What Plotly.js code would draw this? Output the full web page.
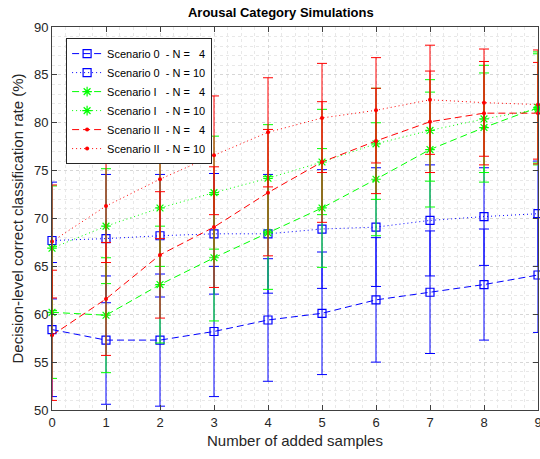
<!DOCTYPE html>
<html>
<head>
<meta charset="utf-8">
<script src="https://cdn.plot.ly/plotly-3.0.1.min.js"></script>
<style>html,body{margin:0;padding:0;background:#fff;}#chart{width:540px;height:459px;}</style>
</head>
<body>
<div id="chart"></div>
<script>
// ---- data ----
const samples = [0, 1, 2, 3, 4, 5, 6, 7, 8, 9];

const s0n4     = [58.4, 57.3, 57.3, 58.2, 59.4, 60.1, 61.5, 62.3, 63.1, 64.1];
const s0n4Err  = [7.0, 6.7, 6.9, 6.8, 6.4, 6.4, 6.5, 6.4, 5.8, 6.0];
const s0n10    = [67.7, 67.9, 68.2, 68.4, 68.4, 68.9, 69.1, 69.8, 70.2, 70.5];
const s0n10Err = [6.1, 6.7, 6.4, 6.3, 6.2, 6.2, 6.2, 5.8, 5.1, 5.5];
const s1n4     = [60.2, 59.9, 63.1, 65.9, 68.5, 71.1, 74.1, 77.2, 79.5, 81.6];
const s1n4Err  = [6.9, 6.0, 6.1, 6.6, 5.9, 6.2, 5.9, 6.0, 5.7, 5.8];
const s1n10    = [66.9, 69.2, 71.1, 72.7, 74.2, 75.9, 77.8, 79.2, 80.4, 81.4];
const s1n10Err = [6.5, 6.0, 6.1, 5.9, 5.6, 5.5, 5.8, 5.3, 5.6, 5.8];
const s2n4     = [57.8, 61.6, 66.2, 69.1, 72.7, 75.9, 78.1, 80.1, 81.0, 81.0];
const s2n4Err  = [6.8, 5.9, 6.6, 6.3, 6.6, 6.3, 5.5, 5.3, 5.4, 5.3];
const s2n10    = [67.6, 71.3, 74.1, 76.6, 79.0, 80.5, 81.3, 82.4, 82.1, 81.9];
const s2n10Err = [5.9, 5.9, 6.2, 6.2, 5.7, 5.7, 5.5, 5.7, 5.6, 5.7];

const seriesNames = [
  "Scenario 0\u00a0\u00a0- N =\u00a0\u00a0 4",
  "Scenario 0\u00a0\u00a0- N = 10",
  "Scenario I\u00a0\u00a0\u00a0- N =\u00a0\u00a0 4",
  "Scenario I\u00a0\u00a0\u00a0- N = 10",
  "Scenario II\u00a0\u00a0- N =\u00a0\u00a0 4",
  "Scenario II\u00a0\u00a0- N = 10"
];

const BLUE = '#0000ff', GREEN = '#00ff00', RED = '#ff0000';
const DASH = '7px,4px', DOT = '1px,3px';

function mk(y, err, name, color, dash, symbol, msize, mline) {
  return {
    x: samples, y: y, name: name, type: 'scatter', mode: 'lines+markers',
    cliponaxis: false,
    line: {color: color, width: 1, dash: dash},
    marker: {symbol: symbol, size: msize, color: color,
             line: {color: color, width: mline}},
    error_y: {type: 'data', array: err, visible: true, color: color, thickness: 1, width: 5}
  };
}

const traces = [
  mk(s0n4,  s0n4Err,  seriesNames[0], BLUE,  DASH, 'square-open', 8, 1.2),
  mk(s0n10, s0n10Err, seriesNames[1], BLUE,  DOT,  'square-open', 8, 1.2),
  mk(s1n4,  s1n4Err,  seriesNames[2], GREEN, DASH, 'asterisk-open', 8, 1.2),
  mk(s1n10, s1n10Err, seriesNames[3], GREEN, DOT,  'asterisk-open', 8, 1.2),
  mk(s2n4,  s2n4Err,  seriesNames[4], RED,   DASH, 'circle', 4, 0),
  mk(s2n10, s2n10Err, seriesNames[5], RED,   DOT,  'circle', 4, 0)
];

const axisCommon = {
  showline: true, linecolor: '#404040', linewidth: 1, mirror: 'ticks',
  ticks: 'inside', ticklen: 5, tickcolor: '#404040',
  showgrid: true, gridcolor: '#d6d6d6', griddash: 'dot', gridwidth: 1,
  zeroline: false, ticklabeloverflow: 'allow',
  tickfont: {family: 'Liberation Sans, Arial, sans-serif', size: 13, color: '#262626'}
};

const layout = {
  width: 540, height: 459,
  margin: {l: 52, r: 2, t: 27, b: 49},
  paper_bgcolor: '#ffffff', plot_bgcolor: '#ffffff',
  title: {text: '<b>Arousal Category Simulations</b>', x: 0.52, xanchor: 'center', y: 0.972, yanchor: 'middle',
          font: {family: 'Liberation Sans, Arial, sans-serif', size: 13, color: '#000'}},
  xaxis: Object.assign({}, axisCommon, {
    range: [0, 9], dtick: 1, tick0: 0,
    minor: {dtick: 0.25, showgrid: true, gridcolor: '#e8e8e8', griddash: 'dot', gridwidth: 1},
    title: {text: 'Number of added samples', standoff: 6,
            font: {family: 'Liberation Sans, Arial, sans-serif', size: 15, color: '#262626'}}
  }),
  yaxis: Object.assign({}, axisCommon, {
    range: [50, 90], dtick: 5, tick0: 50,
    minor: {dtick: 1, showgrid: true, gridcolor: '#e8e8e8', griddash: 'dot', gridwidth: 1},
    title: {text: 'Decision-level correct classification rate (%)', standoff: 6,
            font: {family: 'Liberation Sans, Arial, sans-serif', size: 15, color: '#262626'}}
  }),
  showlegend: true,
  legend: {x: 0.029, y: 0.971, xanchor: 'left', yanchor: 'top',
           bgcolor: '#ffffff', bordercolor: '#262626', borderwidth: 1,
           font: {family: 'Liberation Sans, Arial, sans-serif', size: 11, color: '#000'},
           tracegroupgap: 0, itemwidth: 30}
};

Plotly.newPlot('chart', traces, layout, {displayModeBar: false, staticPlot: true});
</script>
</body>
</html>
